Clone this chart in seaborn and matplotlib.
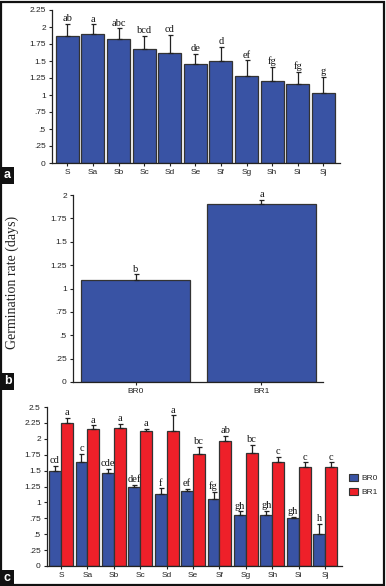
import numpy as np
import matplotlib.pyplot as plt
import seaborn as sns
import pandas as pd
from matplotlib.patches import Rectangle, Patch

# ---- datos ----
tratamientos = ['S', 'Sa', 'Sb', 'Sc', 'Sd', 'Se', 'Sf', 'Sg', 'Sh', 'Si', 'Sj']

media_a = [1.87, 1.90, 1.82, 1.67, 1.62, 1.46, 1.50, 1.28, 1.21, 1.16, 1.03]
tope_a = [2.05, 2.04, 1.98, 1.87, 1.88, 1.61, 1.71, 1.51, 1.41, 1.34, 1.27]
letras_a = ['ab', 'a', 'abc', 'bcd', 'cd', 'de', 'd', 'ef', 'fg', 'fg', 'g']

grupos_b = ['BR0', 'BR1']
media_b = [1.09, 1.90]
tope_b = [1.15, 1.95]
letras_b = ['b', 'a']

media_br0 = [1.49, 1.64, 1.46, 1.25, 1.13, 1.18, 1.05, 0.80, 0.80, 0.76, 0.51]
tope_br0 = [1.58, 1.76, 1.53, 1.28, 1.22, 1.21, 1.17, 0.86, 0.87, 0.77, 0.66]
letras_br0 = ['cd', 'c', 'cde', 'def', 'f', 'ef', 'fg', 'gh', 'gh', 'gh', 'h']

media_br1 = [2.25, 2.16, 2.17, 2.12, 2.13, 1.76, 1.97, 1.77, 1.63, 1.55, 1.56]
tope_br1 = [2.33, 2.21, 2.24, 2.16, 2.37, 1.87, 2.05, 1.91, 1.72, 1.63, 1.63]
letras_br1 = ['a', 'a', 'a', 'a', 'a', 'bc', 'ab', 'bc', 'c', 'c', 'c']

AZUL = '#3953A4'
ROJO = '#EE2029'
BORDE = '#333333'

sns.set_style('ticks')
plt.rcParams['font.family'] = ['Liberation Sans', 'DejaVu Sans']

W, H = 386, 586
fig = plt.figure(figsize=(W / 100, H / 100), dpi=100)


def caja(x0, y0, x1, y1):
    # coordenadas en pixeles (origen arriba a la izquierda)
    return [x0 / W, 1 - y1 / H, (x1 - x0) / W, (y1 - y0) / H]


def estilo(ax, ymax, paso, etiquetas_y):
    sns.despine(ax=ax)
    for s in ['left', 'bottom']:
        ax.spines[s].set_color('#222222')
        ax.spines[s].set_linewidth(0.9)
    ticks = np.arange(0, ymax + 1e-9, paso)
    ax.set_yticks(ticks)
    ax.set_yticklabels(etiquetas_y)
    ax.set_ylim(0, ymax)
    ax.tick_params(axis='both', labelsize=6, length=2.5, width=0.8, pad=2,
                   colors='#222222')
    ax.set_xlabel('')
    ax.set_ylabel('')


def barras_error(ax, xs, medias, topes, letras):
    medias = np.array(medias)
    err = np.array(topes) - medias
    ax.errorbar(xs, medias, yerr=[np.zeros_like(err), err], fmt='none',
                ecolor='#222222', elinewidth=0.9, capsize=1.8, capthick=0.9,
                zorder=3)
    for x, t, l in zip(xs, topes, letras):
        ax.annotate(l, (x, t), xytext=(0, 0.5), textcoords='offset points',
                    ha='center', va='bottom', fontsize=7.5,
                    family='Liberation Serif', color='#111111')


def centros(ax):
    return [p.get_x() + p.get_width() / 2 for p in ax.patches]


# ---- panel a ----
ax_a = fig.add_axes(caja(52, 10, 340, 163))
df_a = pd.DataFrame({'trat': tratamientos, 'valor': media_a})
sns.barplot(data=df_a, x='trat', y='valor', color=AZUL, saturation=1,
            edgecolor=BORDE, linewidth=0.9, width=0.9, ax=ax_a)
barras_error(ax_a, centros(ax_a), media_a, tope_a, letras_a)
estilo(ax_a, 2.25, 0.25,
       ['0', '.25', '.5', '.75', '1', '1.25', '1.5', '1.75', '2', '2.25'])
ax_a.set_xlim(-0.6, 10.65)

# ---- panel b ----
ax_b = fig.add_axes(caja(73, 195, 323, 382))
df_b = pd.DataFrame({'grupo': grupos_b, 'valor': media_b})
sns.barplot(data=df_b, x='grupo', y='valor', color=AZUL, saturation=1,
            edgecolor=BORDE, linewidth=0.9, width=0.87, ax=ax_b)
barras_error(ax_b, centros(ax_b), media_b, tope_b, letras_b)
estilo(ax_b, 2.0, 0.25,
       ['0', '.25', '.5', '.75', '1', '1.25', '1.5', '1.75', '2'])
ax_b.set_xlim(-0.5, 1.49)
ax_b.set_ylabel('Germination rate (days)', family='Liberation Serif',
                fontsize=10, color='#222222')
ax_b.yaxis.set_label_coords((19 - 73) / 250, 0.535)

# ---- panel c ----
ax_c = fig.add_axes(caja(47, 407, 342, 566))
df_c = pd.DataFrame({
    'trat': tratamientos * 2,
    'grupo': ['BR0'] * len(tratamientos) + ['BR1'] * len(tratamientos),
    'valor': media_br0 + media_br1,
})
sns.barplot(data=df_c, x='trat', y='valor', hue='grupo',
            palette={'BR0': AZUL, 'BR1': ROJO}, saturation=1,
            edgecolor=BORDE, linewidth=0.9, width=0.9, legend=False, ax=ax_c)
xs_c = centros(ax_c)
n = len(tratamientos)
barras_error(ax_c, xs_c[:n], media_br0, tope_br0, letras_br0)
barras_error(ax_c, xs_c[n:2 * n], media_br1, tope_br1, letras_br1)
estilo(ax_c, 2.5, 0.25,
       ['0', '.25', '.5', '.75', '1', '1.25', '1.5', '1.75', '2', '2.25', '2.5'])
ax_c.set_xlim(-0.53, 10.64)

manejadores = [Patch(facecolor=AZUL, edgecolor=BORDE, linewidth=0.8),
               Patch(facecolor=ROJO, edgecolor=BORDE, linewidth=0.8)]
fig.legend(manejadores, ['BR0', 'BR1'], loc='center left',
           bbox_to_anchor=(346 / W, 1 - 485 / H), frameon=False, fontsize=6,
           handlelength=1.0, handleheight=1.0, handletextpad=0.5,
           labelspacing=0.7, borderaxespad=0)

# ---- etiquetas de panel ----
for letra, y in [('a', 175), ('b', 381), ('c', 578)]:
    fig.text(7.5 / W, 1 - y / H, letra, color='white', fontsize=9,
             fontweight='bold', ha='center', va='center',
             bbox=dict(boxstyle='square,pad=0.2', facecolor='#111111',
                       edgecolor='none'))

# marco exterior
fig.add_artist(Rectangle((0.002, 0.002), 0.994, 0.995, transform=fig.transFigure,
                         fill=False, edgecolor='#111111', linewidth=1.6))

fig.savefig('out.png', dpi=100)
plt.close(fig)
